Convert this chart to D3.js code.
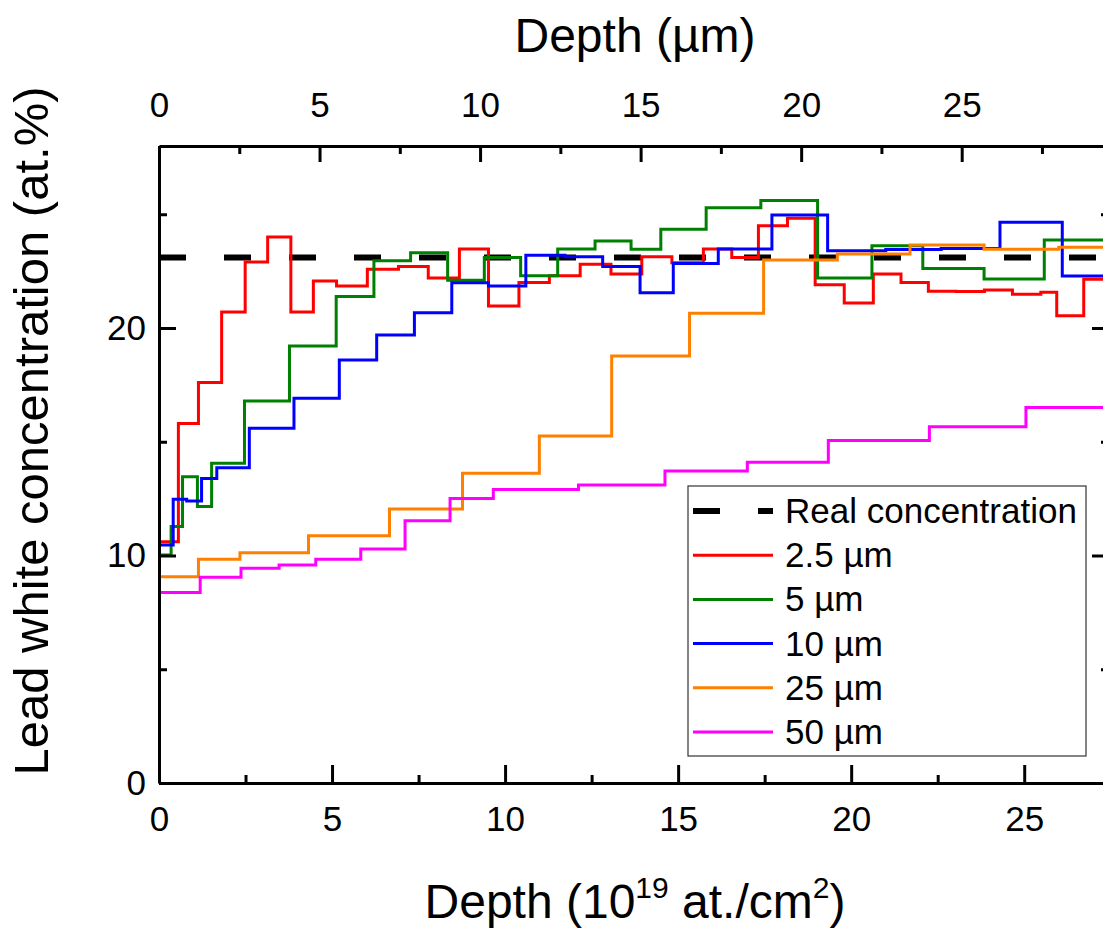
<!DOCTYPE html>
<html>
<head>
<meta charset="utf-8">
<script src="https://cdn.jsdelivr.net/npm/d3@7"></script>
<style>
  html, body { margin: 0; padding: 0; background: #fff; }
  svg { display: block; font-family: "Liberation Sans", Arial, sans-serif; }
</style>
</head>
<body>
<div id="chart"></div>
<script>
// Step profiles: bin start depth (10^19 at./cm2) and lead white concentration (at.%)
const redX = [0, 0.56, 1.14, 1.81, 2.49, 3.14, 3.81, 4.46, 5.13, 6.02, 6.92, 7.78, 8.68, 9.52, 10.4, 11.28, 12.17, 13.06, 13.95, 14.82, 15.73, 16.55, 17.32, 18.16, 18.96, 19.8, 20.64, 21.44, 22.23, 23.03, 23.85, 24.66, 25.48, 25.94, 26.72]
const redY = [10.6, 15.8, 17.6, 20.7, 22.9, 24.0, 20.7, 22.07, 21.85, 22.58, 22.7, 22.2, 23.47, 20.97, 22.0, 22.3, 22.8, 22.37, 23.13, 22.87, 23.47, 23.1, 24.5, 24.82, 21.9, 21.1, 22.37, 22.0, 21.62, 21.6, 21.67, 21.48, 21.57, 20.54, 22.14]

const greenX = [0, 0.35, 0.68, 1.11, 1.52, 2.47, 3.77, 5.12, 6.21, 7.27, 8.34, 9.4, 10.45, 11.52, 12.6, 13.64, 14.5, 15.81, 17.39, 19.03, 20.6, 22.07, 23.84, 25.58]
const greenY = [10.02, 11.27, 13.46, 12.15, 14.05, 16.79, 19.21, 21.38, 22.96, 23.31, 22.1, 23.1, 22.3, 23.47, 23.82, 23.46, 24.34, 25.29, 25.6, 22.2, 23.62, 22.62, 22.15, 23.87]

const blueX = [0, 0.41, 0.8, 1.23, 1.67, 2.61, 3.9, 5.21, 6.29, 7.38, 8.46, 9.52, 10.6, 11.73, 12.82, 13.9, 14.86, 16.16, 17.71, 19.32, 21.0, 22.6, 24.3, 26.1]
const blueY = [10.46, 12.47, 12.4, 13.39, 13.86, 15.59, 16.91, 18.59, 19.69, 20.67, 21.99, 21.85, 23.2, 23.13, 22.7, 21.55, 22.84, 23.47, 24.97, 23.4, 23.45, 23.5, 24.65, 22.29]

const orangeX = [0, 1.14, 2.34, 4.32, 6.66, 8.77, 10.99, 13.08, 15.33, 17.47, 19.6, 21.7, 23.84, 26.0]
const orangeY = [9.07, 9.83, 10.12, 10.87, 12.04, 13.61, 15.25, 18.77, 20.65, 22.99, 23.25, 23.65, 23.46, 23.55]

const magentaX = [0, 1.19, 2.37, 3.47, 4.53, 5.83, 7.11, 8.41, 9.66, 12.12, 14.62, 17.0, 19.34, 22.26, 25.05]
const magentaY = [8.37, 9.04, 9.44, 9.58, 9.83, 10.29, 11.53, 12.51, 12.9, 13.1, 13.71, 14.1, 15.05, 15.66, 16.51]

const realConcentration = 23.1

const legendLabels = ["Real concentration", "2.5 µm", "5 µm", "10 µm", "25 µm", "50 µm"]
const seriesColors = ["#ff0000", "#008000", "#0000ff", "#ff8000", "#ff00ff"]

const bottomTicks = [0, 5, 10, 15, 20, 25]
const bottomMinor = [2.5, 7.5, 12.5, 17.5, 22.5, 27.5]
const topTicks = [0, 5, 10, 15, 20, 25]
const topMinor = [2.5, 7.5, 12.5, 17.5, 22.5, 27.5]
const leftTicks = [0, 10, 20]
const leftMinor = [5, 15, 25]

const xMax = 27.45       // right frame sits just beyond the picture edge
const umPerUnit = 34.6 / 32.1

const width = 1103
const height = 929
const frame = { left: 159, right: 1109, top: 146, bottom: 783 }

const x = d3.scaleLinear().domain([0, xMax]).range([frame.left, frame.right])
const xTop = d3.scaleLinear().domain([0, xMax * umPerUnit]).range([frame.left, frame.right])
const y = d3.scaleLinear().domain([0, 28]).range([frame.bottom, frame.top])

const svg = d3.select("#chart").append("svg")
    .attr("width", width)
    .attr("height", height)
    .attr("viewBox", `0 0 ${width} ${height}`)

function translate(tx, ty) {
    return `translate(${tx},${ty})`
}

// dashed reference line
svg.append("line")
    .attr("x1", x(0)).attr("x2", x(xMax))
    .attr("y1", y(realConcentration)).attr("y2", y(realConcentration))
    .attr("stroke", "#000")
    .attr("stroke-width", 6)
    .attr("stroke-dasharray", "27,38")

// step series
const seriesX = [redX, greenX, blueX, orangeX, magentaX]
const seriesY = [redY, greenY, blueY, orangeY, magentaY]
const stepLine = d3.line()
    .x(d => x(d[0]))
    .y(d => y(d[1]))
    .curve(d3.curveStepAfter)

seriesX.forEach((xs, i) => {
    const ys = seriesY[i]
    const pts = xs.map((v, j) => [v, ys[j]])
    pts.push([xMax, ys[ys.length - 1]])
    svg.append("path")
        .datum(pts)
        .attr("fill", "none")
        .attr("stroke", seriesColors[i])
        .attr("stroke-width", 3)
        .attr("stroke-linejoin", "miter")
        .attr("d", stepLine)
})

// axes
function styleAxis(g) {
    g.select(".domain").attr("stroke", "#000").attr("stroke-width", 3)
    g.selectAll(".tick line").attr("stroke", "#000").attr("stroke-width", 3)
    g.selectAll(".tick text").attr("fill", "#000").attr("font-size", 35)
        .attr("font-family", "Liberation Sans, Arial, sans-serif")
}

const bottomAxis = svg.append("g").attr("transform", translate(0, frame.bottom))
    .call(d3.axisBottom(x).tickValues(bottomTicks).tickSizeInner(-18).tickSizeOuter(0).tickPadding(23).tickFormat(d3.format("d")))
bottomAxis.call(styleAxis)
svg.append("g").attr("transform", translate(0, frame.bottom))
    .call(d3.axisBottom(x).tickValues(bottomMinor).tickSizeInner(-8).tickSizeOuter(0).tickFormat(""))
    .call(styleAxis)
    .select(".domain").remove()

const topAxis = svg.append("g").attr("transform", translate(0, frame.top))
    .call(d3.axisTop(xTop).tickValues(topTicks).tickSizeInner(-16).tickSizeOuter(0).tickPadding(29).tickFormat(d3.format("d")))
topAxis.call(styleAxis)
svg.append("g").attr("transform", translate(0, frame.top))
    .call(d3.axisTop(xTop).tickValues(topMinor).tickSizeInner(-8).tickSizeOuter(0).tickFormat(""))
    .call(styleAxis)
    .select(".domain").remove()

const leftAxis = svg.append("g").attr("transform", translate(frame.left, 0))
    .call(d3.axisLeft(y).tickValues(leftTicks).tickSizeInner(-17).tickSizeOuter(0).tickPadding(13).tickFormat(d3.format("d")))
leftAxis.call(styleAxis)
svg.append("g").attr("transform", translate(frame.left, 0))
    .call(d3.axisLeft(y).tickValues(leftMinor).tickSizeInner(-8).tickSizeOuter(0).tickFormat(""))
    .call(styleAxis)
    .select(".domain").remove()

svg.append("g").attr("transform", translate(frame.right, 0))
    .call(d3.axisRight(y).tickValues(leftTicks).tickSizeInner(-17).tickSizeOuter(0).tickFormat(""))
    .call(styleAxis)
svg.append("g").attr("transform", translate(frame.right, 0))
    .call(d3.axisRight(y).tickValues(leftMinor).tickSizeInner(-8).tickSizeOuter(0).tickFormat(""))
    .call(styleAxis)
    .select(".domain").remove()

// axis titles
const cx = 635
const bottomTitle = svg.append("text")
    .attr("x", cx).attr("y", 918)
    .attr("text-anchor", "middle")
    .attr("font-size", 48)
bottomTitle.append("tspan").text("Depth (10")
bottomTitle.append("tspan").attr("font-size", 30).attr("dy", -20).text("19")
bottomTitle.append("tspan").attr("dy", 20).text(" at./cm")
bottomTitle.append("tspan").attr("font-size", 30).attr("dy", -20).text("2")
bottomTitle.append("tspan").attr("dy", 20).text(")")

svg.append("text")
    .attr("x", cx).attr("y", 52)
    .attr("text-anchor", "middle")
    .attr("font-size", 48)
    .text("Depth (µm)")

svg.append("text")
    .attr("transform", translate(48, 431) + " rotate(-90)")
    .attr("text-anchor", "middle")
    .attr("font-size", 49)
    .text("Lead white concentration (at.%)")

// legend
const legend = svg.append("g").attr("transform", translate(688, 486))
legend.append("rect")
    .attr("width", 398).attr("height", 270)
    .attr("fill", "#fff")
    .attr("stroke", "#333")
    .attr("stroke-width", 1.2)

const rowY = d3.scaleLinear().domain([0, 5]).range([25, 246])
legendLabels.forEach((label, i) => {
    const ly = rowY(i)
    const sample = legend.append("line")
        .attr("x1", 5).attr("x2", 85)
        .attr("y1", ly).attr("y2", ly)
    if (i === 0) {
        sample.attr("stroke", "#000").attr("stroke-width", 6).attr("stroke-dasharray", "27,38")
    } else {
        sample.attr("stroke", seriesColors[i - 1]).attr("stroke-width", 3)
    }
    legend.append("text")
        .attr("x", 97).attr("y", ly + 12)
        .attr("font-size", 35)
        .text(label)
})
</script>
</body>
</html>
